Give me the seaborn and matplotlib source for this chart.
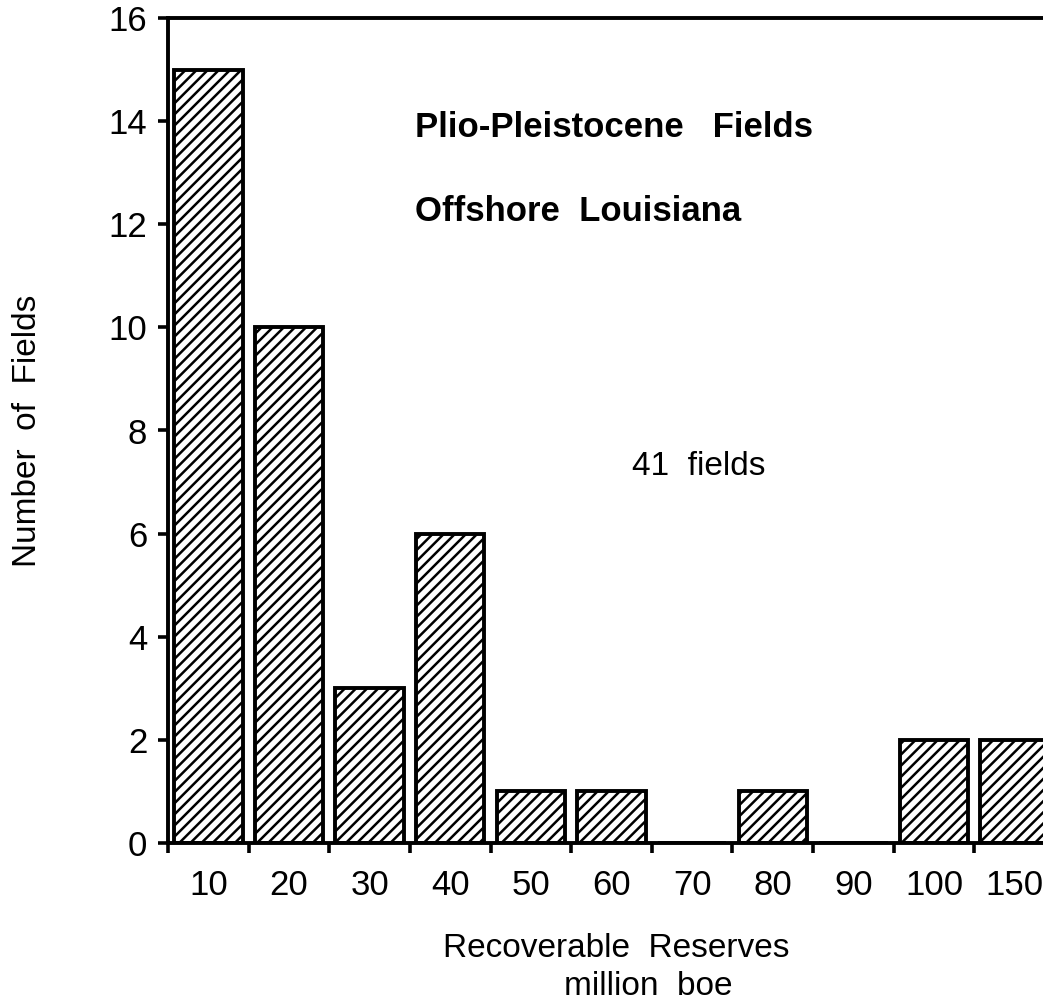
import matplotlib
matplotlib.use("Agg")
import matplotlib.pyplot as plt
import seaborn as sns
import pandas as pd
import numpy as np

categories = ["10", "20", "30", "40", "50", "60", "70", "80", "90", "100", "150"]
counts = [15, 10, 3, 6, 1, 1, 0, 1, 0, 2, 2]
yticks = [0, 2, 4, 6, 8, 10, 12, 14, 16]

sns.set_style("ticks")
plt.rcParams['font.family'] = ['Liberation Sans', 'DejaVu Sans']
plt.rcParams['hatch.linewidth'] = 1.8
plt.rcParams['hatch.color'] = 'black'
plt.rcParams['text.color'] = 'black'
plt.rcParams['axes.labelcolor'] = 'black'
plt.rcParams['xtick.color'] = 'black'
plt.rcParams['ytick.color'] = 'black'
plt.rcParams['xtick.labelcolor'] = 'black'
plt.rcParams['ytick.labelcolor'] = 'black'

df = pd.DataFrame({"Reserves": categories, "Fields": counts})

fig = plt.figure(figsize=(10.43, 10.05), dpi=100)
ax = fig.add_axes([168/1043, (1005-843)/1005, 887/1043, 825/1005])

sns.barplot(data=df, x="Reserves", y="Fields", order=categories, color="white",
            saturation=1, edgecolor="black", linewidth=2.8, hatch="///",
            width=0.85, ax=ax)

ax.set_xlim(-0.5, len(categories) - 0.5)
ax.set_ylim(0, 16)
ax.set_yticks(yticks)
ax.set_yticklabels([str(v) for v in yticks])

# major ticks (labels) at centers, minor ticks at category boundaries
ax.set_xticks(np.arange(len(categories)))
ax.set_xticklabels(categories)
ax.set_xticks(np.arange(len(categories) + 1) - 0.5, minor=True)
ax.tick_params(axis='x', which='major', length=0, pad=19, labelsize=25)
ax.tick_params(axis='x', which='minor', length=7, width=2.6, direction='out', color='black')
ax.tick_params(axis='y', which='major', length=7, width=2.6, direction='out', pad=8,
               labelsize=25, color='black')

for s in ['left', 'bottom', 'top']:
    ax.spines[s].set_linewidth(2.8)
    ax.spines[s].set_color('black')
ax.spines['right'].set_visible(False)

ax.set_xlabel("Recoverable  Reserves", fontsize=24)
ax.xaxis.label.set_va('center')
ax.xaxis.set_label_coords((616-168)/887, -(948-843)/825)
ax.text((648-168)/887, -(986-843)/825, "million  boe", transform=ax.transAxes,
        ha='center', va='center', fontsize=24)

ax.set_ylabel("Number  of  Fields", fontsize=24)
ax.yaxis.label.set_va('center')
ax.yaxis.set_label_coords(-(168-28)/887, 0.5)

ax.text(2.56, 13.87, "Plio-Pleistocene   Fields", fontsize=25, fontweight='bold',
        ha='left', va='center')
ax.text(2.56, 12.24, "Offshore  Louisiana", fontsize=25, fontweight='bold',
        ha='left', va='center')
ax.text(5.26, 7.31, "41  fields", fontsize=24, ha='left', va='center')

fig.savefig("out.png", dpi=100)
